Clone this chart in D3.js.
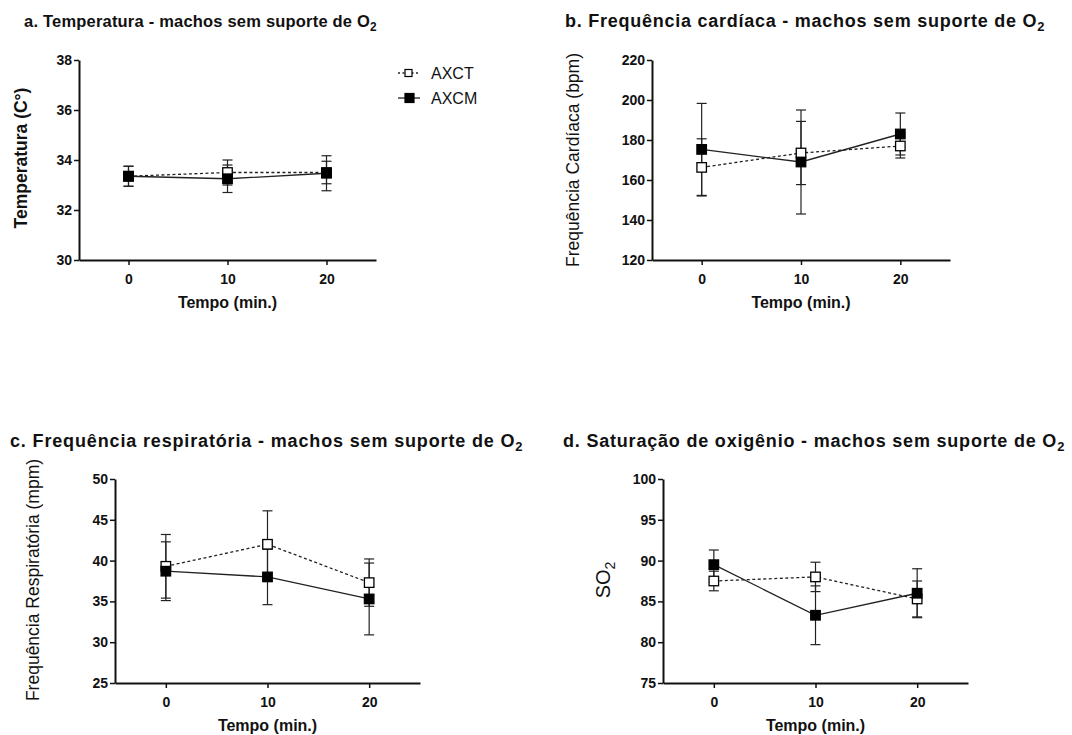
<!DOCTYPE html>
<html>
<head>
<meta charset="utf-8">
<script src="https://cdn.jsdelivr.net/npm/d3@7"></script>
<style>
  body { margin: 0; background: #fff; }
  svg { font-family: "Liberation Sans", Arial, sans-serif; }
  .tick text { font-weight: bold; font-size: 14px; fill: #111; }
</style>
</head>
<body>
<div id="chart"></div>
<script>
// data
var times = [0, 10, 20];
var seriesNames = ["AXCT", "AXCM"];

var tempAXCT = [33.35, 33.5, 33.5];
var tempAXCTErr = [0.4, 0.5, 0.45];
var tempAXCM = [33.35, 33.25, 33.47];
var tempAXCMErr = [0.4, 0.55, 0.7];

var fcAXCT = [166.3, 173.5, 177];
var fcAXCTErr = [14.3, 15.8, 6];
var fcAXCM = [175.3, 169, 183];
var fcAXCMErr = [23, 26, 10.5];

var frAXCT = [39.3, 42, 37.3];
var frAXCTErr = [3.9, 4.1, 2.9];
var frAXCM = [38.7, 38, 35.3];
var frAXCMErr = [3.6, 3.4, 4.4];

var soAXCT = [87.5, 88, 85.3];
var soAXCTErr = [1.2, 1.8, 2.2];
var soAXCM = [89.5, 83.3, 86];
var soAXCMErr = [1.8, 3.6, 3];

var tempTicks = [30, 32, 34, 36, 38];
var fcTicks = [120, 140, 160, 180, 200, 220];
var frTicks = [25, 30, 35, 40, 45, 50];
var soTicks = [75, 80, 85, 90, 95, 100];

var svg = d3.select("#chart")
  .append("svg")
  .attr("width", 1072)
  .attr("height", 735);

// panel layout
var panels = [
  {title: "a. Temperatura - machos sem suporte de O", titleX: 24, titleY: 27, titleSize: 16.5, titleLs: 0.2,
   left: 79, right: 376, top: 60, bottom: 260, ticks: tempTicks,
   ylab: "Temperatura (C°)", ylabX: 22, ylabY: 158, ylabBold: true, xlabY: 308,
   a: tempAXCT, aErr: tempAXCTErr, m: tempAXCM, mErr: tempAXCMErr},
  {title: "b. Frequência cardíaca - machos sem suporte de O", titleX: 565, titleY: 27, titleSize: 18, titleLs: 0.75,
   left: 652, right: 950, top: 60, bottom: 260, ticks: fcTicks,
   ylab: "Frequência Cardíaca (bpm)", ylabX: 574, ylabY: 160, ylabBold: false, xlabY: 308,
   a: fcAXCT, aErr: fcAXCTErr, m: fcAXCM, mErr: fcAXCMErr},
  {title: "c. Frequência respiratória - machos sem suporte de O", titleX: 10, titleY: 447, titleSize: 18, titleLs: 0.85,
   left: 115, right: 420, top: 479, bottom: 683, ticks: frTicks,
   ylab: "Frequência Respiratória (mpm)", ylabX: 34, ylabY: 580, ylabBold: false, xlabY: 731,
   a: frAXCT, aErr: frAXCTErr, m: frAXCM, mErr: frAXCMErr},
  {title: "d. Saturação de oxigênio - machos sem suporte de O", titleX: 563, titleY: 447, titleSize: 18, titleLs: 0.8,
   left: 663, right: 968, top: 479, bottom: 683, ticks: soTicks,
   ylab: "SO", ylabSub: true, ylabX: 605, ylabY: 580, ylabBold: false, xlabY: 731,
   a: soAXCT, aErr: soAXCTErr, m: soAXCM, mErr: soAXCMErr}
];

panels.forEach(function(p) {
  var x = d3.scaleLinear().domain([-5, 25]).range([p.left, p.right]);
  var y = d3.scaleLinear().domain(d3.extent(p.ticks)).range([p.bottom, p.top]);

  // title with subscript 2
  var t = svg.append("text")
    .attr("x", p.titleX)
    .attr("y", p.titleY)
    .attr("font-size", p.titleSize)
    .attr("letter-spacing", p.titleLs)
    .attr("font-weight", "bold")
    .attr("fill", "#111")
    .text(p.title);
  t.append("tspan").attr("dy", 4).attr("font-size", p.titleSize * 0.72).text("2");

  // axes
  var xAxis = svg.append("g")
    .attr("transform", `translate(0, ${p.bottom})`)
    .call(d3.axisBottom(x).tickValues(times).tickSize(5).tickPadding(5).tickSizeOuter(0));
  var yAxis = svg.append("g")
    .attr("transform", `translate(${p.left}, 0)`)
    .call(d3.axisLeft(y).tickValues(p.ticks).tickSize(5).tickPadding(2).tickSizeOuter(0));
  [xAxis, yAxis].forEach(function(g) {
    g.select(".domain").attr("stroke", "#111").attr("stroke-width", 2);
    g.selectAll(".tick line").attr("stroke", "#111").attr("stroke-width", 1.5);
  });
  xAxis.selectAll(".tick text").attr("dy", "1em");

  // x label
  svg.append("text")
    .attr("x", x(10))
    .attr("y", p.xlabY)
    .attr("text-anchor", "middle")
    .attr("font-size", 16)
    .attr("font-weight", "bold")
    .attr("fill", "#111")
    .text("Tempo (min.)");

  // y label
  var yl = svg.append("text")
    .attr("transform", `translate(${p.ylabX}, ${p.ylabY}) rotate(-90)`)
    .attr("text-anchor", "middle")
    .attr("dominant-baseline", "middle")
    .attr("font-size", p.ylabSub ? 20 : 17.5)
    .attr("font-weight", p.ylabBold ? "bold" : "normal")
    .attr("fill", "#111")
    .text(p.ylab);
  if (p.ylabSub) yl.append("tspan").attr("dy", 6).attr("font-size", 14).text("2");

  var groups = [
    {vals: p.a, errs: p.aErr, dash: "3,2.5", fill: "#fff"},
    {vals: p.m, errs: p.mErr, dash: null, fill: "#000"}
  ];

  // error bars
  groups.forEach(function(s) {
    var eb = svg.append("g").attr("stroke", "#222").attr("stroke-width", 1.2);
    times.forEach(function(tm, i) {
      var cx = x(tm), hi = y(s.vals[i] + s.errs[i]), lo = y(s.vals[i] - s.errs[i]);
      eb.append("line").attr("x1", cx).attr("x2", cx).attr("y1", hi).attr("y2", lo);
      eb.append("line").attr("x1", cx - 5).attr("x2", cx + 5).attr("y1", hi).attr("y2", hi);
      eb.append("line").attr("x1", cx - 5).attr("x2", cx + 5).attr("y1", lo).attr("y2", lo);
    });
  });

  // lines and markers
  var line = d3.line().x(function(d, i) { return x(times[i]); }).y(function(d) { return y(d); });
  groups.forEach(function(s) {
    svg.append("path")
      .datum(s.vals)
      .attr("d", line)
      .attr("fill", "none")
      .attr("stroke", "#222")
      .attr("stroke-width", 1.3)
      .attr("stroke-dasharray", s.dash);
  });
  groups.forEach(function(s) {
    svg.append("g").selectAll("rect")
      .data(s.vals)
      .enter()
      .append("rect")
      .attr("x", function(d, i) { return x(times[i]) - 4.75; })
      .attr("y", function(d) { return y(d) - 4.75; })
      .attr("width", 9.5)
      .attr("height", 9.5)
      .attr("fill", s.fill)
      .attr("stroke", "#000")
      .attr("stroke-width", 1.3);
  });
});

// legend
var legend = svg.append("g");
seriesNames.forEach(function(name, i) {
  var ly = 73 + i * 25;
  legend.append("line")
    .attr("x1", 398).attr("x2", 420).attr("y1", ly).attr("y2", ly)
    .attr("stroke", "#222").attr("stroke-width", 1.3)
    .attr("stroke-dasharray", i === 0 ? "2,2.5" : null);
  legend.append("rect")
    .attr("x", 405).attr("y", ly - (i === 0 ? 3.5 : 4.5))
    .attr("width", i === 0 ? 7 : 9).attr("height", i === 0 ? 7 : 9)
    .attr("fill", i === 0 ? "#fff" : "#000")
    .attr("stroke", "#000").attr("stroke-width", 1.2);
  legend.append("text")
    .attr("x", 431).attr("y", ly + 5.5)
    .attr("font-size", 16)
    .attr("fill", "#111")
    .text(name);
});
</script>
</body>
</html>
